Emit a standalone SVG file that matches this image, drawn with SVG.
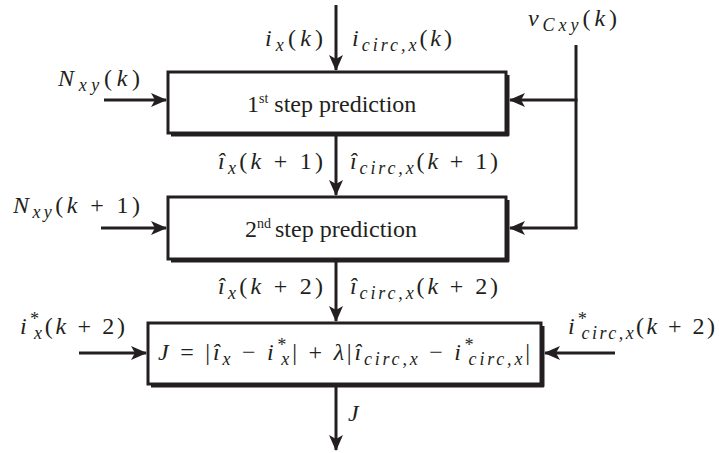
<svg xmlns="http://www.w3.org/2000/svg" width="719" height="453" viewBox="0 0 719 453">
<style>
.bx{fill:#fff;stroke:#231f20;stroke-width:3}
.sh{fill:none;stroke:#231f20;stroke-width:3;stroke-linejoin:round}
.ln{fill:none;stroke:#231f20;stroke-width:3}
</style>
<defs>
<marker id="ah" viewBox="0 0 16 14" refX="15" refY="7" markerWidth="16" markerHeight="14" markerUnits="userSpaceOnUse" orient="auto">
<path d="M0,0 L16,7 L0,14 L4,7 Z" fill="#231f20"/>
</marker>
</defs>
<g id="connectors">
<path class="ln" d="M336,5 V70" marker-end="url(#ah)"/>
<path class="ln" d="M336,135 V195" marker-end="url(#ah)"/>
<path class="ln" d="M336,261 V321" marker-end="url(#ah)"/>
<path class="ln" d="M336,387 V450" marker-end="url(#ah)"/>
<path class="ln" d="M104,100 H166" marker-end="url(#ah)"/>
<path class="ln" d="M101,228 H166" marker-end="url(#ah)"/>
<path class="ln" d="M576,45 V228"/>
<path class="ln" d="M577.5,100 H510" marker-end="url(#ah)"/>
<path class="ln" d="M577.5,228 H510" marker-end="url(#ah)"/>
<path class="ln" d="M79,353 H146" marker-end="url(#ah)"/>
<path class="ln" d="M615,353 H545" marker-end="url(#ah)"/>
</g>
<g id="step1" font-family="Liberation Serif" font-size="24" fill="#231f20">
<rect class="bx" x="168" y="72" width="338" height="61"/>
<path class="sh" d="M508,75 V135 H171"/>
<text x="247" y="112">1<tspan font-size="14" dy="-9">st</tspan><tspan dy="9"> step prediction</tspan></text>
</g>
<g id="step2" font-family="Liberation Serif" font-size="24" fill="#231f20">
<rect class="bx" x="168" y="197" width="338" height="62"/>
<path class="sh" d="M508,200 V261 H171"/>
<text x="245" y="237">2<tspan font-size="14" dy="-9">nd</tspan><tspan dy="9" dx="4">step prediction</tspan></text>
</g>
<g id="cost" font-family="Liberation Serif" font-size="24" font-style="italic" fill="#231f20">
<rect class="bx" x="148" y="323" width="393" height="61"/>
<path class="sh" d="M543,326 V386 H151"/>
<text x="158" y="360" textLength="372" lengthAdjust="spacing">J <tspan font-style="normal">= |</tspan>î<tspan font-size="18" dy="5">x</tspan><tspan font-style="normal" dy="-5"> − </tspan>i<tspan font-size="18" dy="-9">*</tspan><tspan font-size="18" dx="-7" dy="14">x</tspan><tspan font-style="normal" dy="-5">| + </tspan>λ<tspan font-style="normal">|</tspan>î<tspan font-size="18" dy="5">circ,x</tspan><tspan font-style="normal" dy="-5"> − </tspan>i<tspan font-size="18" dy="-9">*</tspan><tspan font-size="18" dx="-7" dy="14">circ,x</tspan><tspan font-style="normal" dy="-5">|</tspan></text>
</g>
<g id="labels" fill="#231f20" font-family="Liberation Serif" font-style="italic" font-size="24">
<text x="265" y="46" textLength="58" lengthAdjust="spacing">i<tspan font-size="18" dy="5">x</tspan><tspan font-style="normal" dy="-5">(</tspan>k<tspan font-style="normal">)</tspan></text>
<text x="352" y="46" textLength="100" lengthAdjust="spacing">i<tspan font-size="18" dy="5">circ,x</tspan><tspan font-style="normal" dy="-5">(</tspan>k<tspan font-style="normal">)</tspan></text>
<text x="528" y="26" textLength="89" lengthAdjust="spacing">v<tspan font-size="18" dy="5">Cxy</tspan><tspan font-style="normal" dy="-5">(</tspan>k<tspan font-style="normal">)</tspan></text>
<text x="58" y="86" textLength="82" lengthAdjust="spacing">N<tspan font-size="18" dy="5">xy</tspan><tspan font-style="normal" dy="-5">(</tspan>k<tspan font-style="normal">)</tspan></text>
<text x="218" y="169" textLength="105" lengthAdjust="spacing">î<tspan font-size="18" dy="5">x</tspan><tspan font-style="normal" dy="-5">(</tspan>k<tspan font-style="normal"> + 1)</tspan></text>
<text x="350" y="169" textLength="148" lengthAdjust="spacing">î<tspan font-size="18" dy="5">circ,x</tspan><tspan font-style="normal" dy="-5">(</tspan>k<tspan font-style="normal"> + 1)</tspan></text>
<text x="13" y="213" textLength="127" lengthAdjust="spacing">N<tspan font-size="18" dy="5">xy</tspan><tspan font-style="normal" dy="-5">(</tspan>k<tspan font-style="normal"> + 1)</tspan></text>
<text x="218" y="294" textLength="105" lengthAdjust="spacing">î<tspan font-size="18" dy="5">x</tspan><tspan font-style="normal" dy="-5">(</tspan>k<tspan font-style="normal"> + 2)</tspan></text>
<text x="350" y="294" textLength="148" lengthAdjust="spacing">î<tspan font-size="18" dy="5">circ,x</tspan><tspan font-style="normal" dy="-5">(</tspan>k<tspan font-style="normal"> + 2)</tspan></text>
<text x="20" y="334" textLength="105" lengthAdjust="spacing">i<tspan font-size="18" dy="-9">*</tspan><tspan font-size="18" dx="-7" dy="14">x</tspan><tspan font-style="normal" dy="-5">(</tspan>k<tspan font-style="normal"> + 2)</tspan></text>
<text x="568" y="334" textLength="147" lengthAdjust="spacing">i<tspan font-size="18" dy="-9">*</tspan><tspan font-size="18" dx="-7" dy="14">circ,x</tspan><tspan font-style="normal" dy="-5">(</tspan>k<tspan font-style="normal"> + 2)</tspan></text>
<text x="348" y="421">J</text>
</g>
</svg>
